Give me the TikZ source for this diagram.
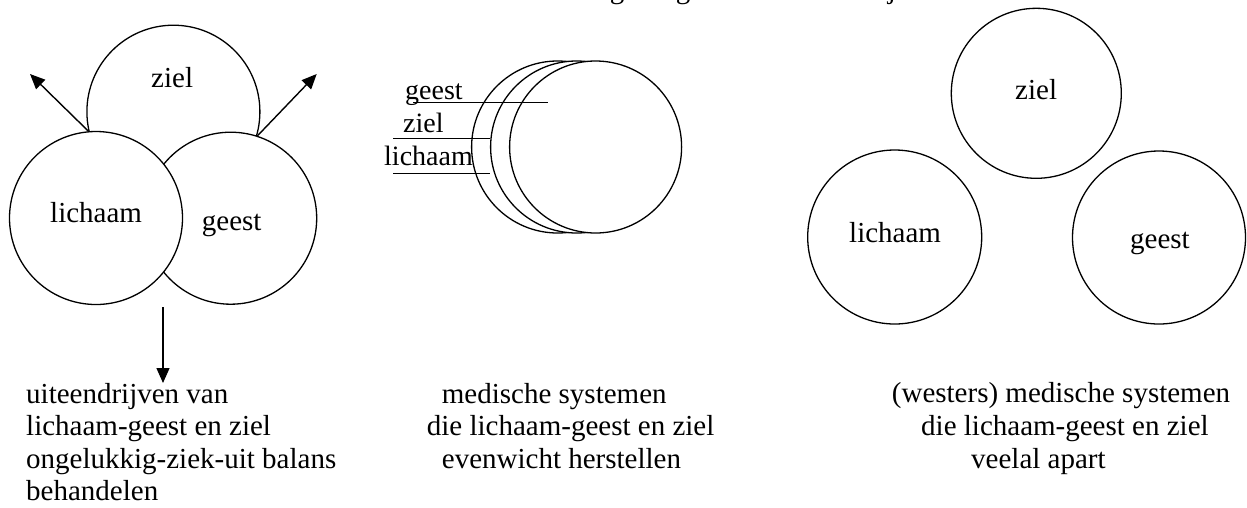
\documentclass[tikz,border=0pt]{standalone}
\usepackage{fontspec}
\setmainfont{Liberation Serif}
\usetikzlibrary{arrows.meta}
\begin{document}
\begin{tikzpicture}[x=1pt,y=-1pt,
  circ/.style={circle, draw, fill=white, line width=1.3pt, minimum size=172pt, inner sep=0pt},
  lbl/.style={inner sep=0pt, anchor=base west, font=\fontsize{29}{34}\selectfont},
  smalllbl/.style={inner sep=0pt, anchor=base west, font=\fontsize{28}{33}\selectfont},
  arr/.style={line width=1.4pt, -{Triangle[length=15pt,width=13pt]}},
  tick/.style={line width=1.3pt}]
\useasboundingbox (0,0) rectangle (1247,507);

% cropped title fragments (only descenders visible)
\node[inner sep=0pt, anchor=base, font=\fontsize{29}{34}\selectfont] (t1) at (617,-1.3) {g};
\node[inner sep=0pt, anchor=base, font=\fontsize{29}{34}\selectfont] (t2) at (683,-1.3) {g};
\node[inner sep=0pt, anchor=base, font=\fontsize{29}{34}\selectfont] (t3) at (892,-1.3) {j};

% ---------- left group ----------
\node[circ, minimum size=173pt] (zielL) at (173.4,111.7) {};
\node[circ] (geestL) at (230.7,218.2) {};
\node[circ, minimum size=173pt] (lichL) at (96,218) {};
\node[lbl] (tzielL) at (151,87.3) {ziel};
\node[lbl] (tlichL) at (50,222.7) {lichaam};
\node[lbl] (tgeestL) at (201.7,230.7) {geest};
\coordinate (aL) at (30,74);
\coordinate (aR) at (316.7,74);
\draw[arr] (lichL.95) -- (aL);
\draw[arr] (geestL.72) -- (aR);
\coordinate (dS) at (163,307);
\coordinate (dE) at (163,383);
\draw[arr] (dS) -- (dE);

% ---------- middle group ----------
\node[circ] (m1) at (557.6,147) {};
\node[circ] (m2) at (576.6,147) {};
\node[circ] (m3) at (595.6,147) {};
\coordinate (g1) at (413.3,102.3); \coordinate (g2) at (548.3,102.3);
\coordinate (z1) at (393.3,138.3); \coordinate (z2) at (490,138.3);
\coordinate (l1) at (393.3,173.3); \coordinate (l2) at (490,173.3);
\draw[tick] (g1) -- (g2);
\draw[tick] (z1) -- (z2);
\draw[tick] (l1) -- (l2);
\node[smalllbl] (tgeestM) at (405,99.3) {geest};
\node[smalllbl] (tzielM) at (403,132.7) {ziel};
\node[smalllbl] (tlichM) at (384,165) {lichaam};

% ---------- right group ----------
\node[circ, minimum size=170pt] (zielR) at (1036.3,93.3) {};
\node[circ, minimum size=174pt] (lichR) at (894.7,237) {};
\node[circ, minimum size=173pt] (geestR) at (1159,237.5) {};
\node[lbl] (tzielR) at (1015,99) {ziel};
\node[lbl] (tlichR) at (849,242) {lichaam};
\node[lbl] (tgeestR) at (1130,248) {geest};

% ---------- captions ----------
\node[lbl] (c11) at (26,403) {uiteendrijven van};
\node[lbl] (c12) at (26,435.5) {lichaam-geest en ziel};
\node[lbl] (c13) at (26,468) {ongelukkig-ziek-uit balans};
\node[lbl] (c14) at (26,500) {behandelen};

\node[lbl] (c21) at (441.7,403) {medische systemen};
\node[lbl] (c22) at (426.7,435.5) {die lichaam-geest en ziel};
\node[lbl] (c23) at (441.7,468) {evenwicht herstellen};

\node[lbl] (c31) at (891.7,402.7) {(westers) medische systemen};
\node[lbl] (c32) at (921,435.5) {die lichaam-geest en ziel};
\node[lbl] (c33) at (971,468) {veelal apart};
\end{tikzpicture}
\end{document}
